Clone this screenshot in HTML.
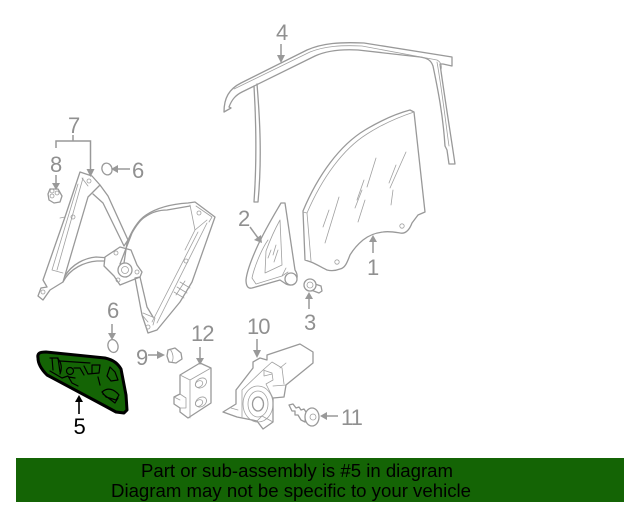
<!DOCTYPE html>
<html><head><meta charset="utf-8"><style>
html,body{margin:0;padding:0;background:#fff;width:640px;height:512px;overflow:hidden}
svg{display:block}
text{font-family:"Liberation Sans",sans-serif}
.g{fill:none;stroke:#999;stroke-width:1.3;stroke-linejoin:round;stroke-linecap:round}
.t{fill:none;stroke:#a0a0a0;stroke-width:.8;stroke-linejoin:round;stroke-linecap:round}
.w{fill:#fff;stroke:#999;stroke-width:1.3;stroke-linejoin:round}
.l{fill:#909090;font-size:22px}
.a{fill:none;stroke:#999;stroke-width:1.5}
.h{fill:#999}
.k{fill:none;stroke:#000;stroke-width:1.2;stroke-linejoin:round;stroke-linecap:round}
</style></head><body>
<svg width="640" height="512" viewBox="0 0 640 512" xmlns="http://www.w3.org/2000/svg">
<rect width="640" height="512" fill="#fff"/>

<!-- 4 molding -->
<path class="g" d="M224,112 C224,98 229,89 241,83 L307,50 C323,43 340,42 364,43 L452,57 L452,66 L443,64 L440,64 C445,100 450,130 455,164 L449,164 L447,150 L445,146 C443,115 438,90 433,66 C431,60 427,58 420,57 L358,50 C340,49 326,51 315,56 L242,92 C236,95 232,99 229,107 L231,108 L224,112Z"/>
<path class="t" d="M234,89 L310,52 C325,46 342,45 362,46 L437,60 C441,62 442,66 441,70 M437,62 C442,90 446,125 449,146"/>
<path class="g" d="M257,84 C260,120 262,160 258,202 L254,202 C257,160 256,120 254,86"/>

<!-- 1 glass -->
<path class="g" d="M303,211 C318,175 340,145 365,130 C380,121 395,114 410,110 L414,112 L425,212 L418,215 L412,223 C409,231 405,234 400,233 C394,232 389,231 383,232 C374,233 368,236 363,240 C357,245 353,250 350,255 C347,263 345,268 340,269 C335,271 331,271 327,270 C321,267 316,264 311,262 L305,260 Z"/>
<path class="t" d="M303,212 L307,213 L311,261 M307,213 C322,178 343,149 367,134 C381,125 396,118 414,112"/>
<circle class="t" cx="337" cy="262" r="2.200"/><circle class="t" cx="402" cy="226" r="2.200"/>
<path class="t" d="M339,197 L325,243 M329,210 L323,227 M365,200 L358,222 M362,190 L355,208 M376,158 L367,187 M406,152 L390,188 M396,165 L389,183 M364,180 L357,200 M393,190 L391,205"/>

<!-- 2 vent glass -->
<path class="g" d="M281,203 L285,203 L295,270 C297,273 298,277 296,281 C294,285 290,286 286,284 L280,280 L252,288 C248,289 246,286 246,280 C247,270 252,258 258,245 C266,228 274,215 281,203Z"/>
<path class="t" d="M280,220 L282,265 L265,273 L266,251 C270,240 275,229 280,220Z M252,278 L256,284 L282,276 L286,268 M252,278 C254,268 261,250 268,240 M276,245 L273,255 M278,250 L274,262 M271,250 L268,258"/>
<ellipse class="w" cx="291" cy="279" rx="6" ry="6"/>
<path class="t" d="M282,276 L288,272"/>

<!-- 3 bolt -->
<path class="w" d="M312,283 L321,286 L322,291 L319,293 L311,290"/>
<circle class="w" cx="310" cy="285" r="6"/><circle class="t" cx="310" cy="285" r="3"/>

<!-- regulator left -->
<path class="g" d="M80,172 L92,176 L100,185 L88,197 L63,282 L50,290 L43,300 L38,296 L41,288 L47,287 L43,280 L58,237 L65,217 Z"/>
<path class="t" d="M78,184 L52,270 M83,178 L57,270 M52,270 L63,273 M82,178 L88,186 M60,218 L65,217"/>
<circle class="t" cx="89" cy="181" r="2"/><circle class="t" cx="73" cy="217" r="2"/><circle class="t" cx="43" cy="292" r="2"/>
<path class="g" d="M100,185 L108,196 L128,240 L124,246 L103,203 L93,194"/>
<path class="g" d="M63,282 C70,268 85,262 97,261 L115,261 L120,264 M65,276 C72,264 85,258 96,257 L110,258"/>
<!-- plate -->
<path class="w" d="M105,257 L120,247 L131,250 L137,265 L142,272 L140,277 L120,285 L114,276 L104,266Z"/>
<circle class="t" cx="116" cy="253" r="2"/><circle class="t" cx="137" cy="272" r="2"/><circle class="t" cx="118" cy="280" r="2"/>
<circle class="w" cx="125" cy="270" r="7"/><circle class="t" cx="125" cy="270" r="3.500"/>
<!-- regulator right -->
<path class="g" d="M124,263 L127,243 C131,232 138,220 146,215 C158,207 172,204 188,203 L195,202 L215,217 L192,282 L180,302 L157,330 L148,333 L142,315 L135,278 L140,277 L147,307 L153,317"/>
<path class="g" d="M120,264 L132,233 C136,226 140,220 145,217 C152,212 160,210 167,210 L190,206"/>
<path class="t" d="M190,205 L195,230 L207,220 M207,223 L157,323 M198,232 L152,322 M195,230 L185,250 M196,206 L212,217 L209,222"/>
<circle class="t" cx="199" cy="213" r="2"/><circle class="t" cx="186" cy="261" r="2"/><circle class="t" cx="148" cy="327" r="2"/>
<path class="t" d="M185,281 L176,295 M180,282 L190,288 M177,287 L187,293 M174,292 L184,298 M143,313 L155,318 L153,325 M142,315 L148,322"/>

<!-- 8 clip -->
<path class="g" d="M50,189 L58,189 L62,196 L60,202 L54,203 L49,200 L48,194Z"/>
<path class="t" d="M52,193 A2,2 0 1 1 52.100,193 M57,195 A2,2 0 1 1 57.100,195 M52,198 A2,2 0 1 1 52.100,198"/>

<!-- 6 rings -->
<ellipse class="g" cx="107" cy="169" rx="5" ry="6" transform="rotate(-20 107 169)"/>
<ellipse class="g" cx="113" cy="346" rx="5" ry="6.500" transform="rotate(-15 113 346)"/>
<!-- 9 -->
<path class="w" d="M168,350 L175,348 L181,353 L182,359 L176,363 L169,362 L167,356Z"/>
<path class="t" d="M170,349 C173,353 174,358 172,362"/>

<!-- 12 -->
<path class="g" d="M180,375 L200,363 L211,368 L211,403 L188,418 L180,412 L180,408 L174,404 L174,397 L180,394Z"/>
<path class="t" d="M180,375 L190,380 L211,368 M190,380 L190,418 M180,394 L186,398 L186,408 L180,408 M174,397 L180,400"/>
<ellipse class="t" cx="201" cy="383" rx="6" ry="4.500" transform="rotate(-35 201 383)"/>
<ellipse class="t" cx="201" cy="402" rx="6" ry="4.500" transform="rotate(-35 201 402)"/>
<ellipse class="t" cx="199" cy="384" rx="4" ry="3" transform="rotate(-35 199 384)"/>
<ellipse class="t" cx="199" cy="403" rx="4" ry="3" transform="rotate(-35 199 403)"/>

<!-- 10 motor -->
<path class="g" d="M253,368 L253,362 L260,358 L267,360 L267,355 L300,344 L313,352 L313,363 L286,385 L284,397 L273,398 L273,422 L263,429 L257,421 L237,417 L223,412 L236,404 L236,390Z"/>
<path class="t" d="M242,390 L242,417 M242,390 L263,370 L272,362 L282,368 L284,384 M263,370 L272,373 L273,380 L266,384 L273,398 M264,370 L264,376 L272,374 M273,386 L286,385 M257,421 L262,416 L273,422 M280,368 L286,363 M231,408 L238,410"/>
<ellipse class="t" cx="258" cy="404" rx="15" ry="18"/>
<ellipse class="t" cx="258" cy="404" rx="10" ry="13"/>
<ellipse class="g" cx="258" cy="404" rx="5.500" ry="7"/>

<!-- 11 screw -->
<path class="g" d="M289,405 L293,404 L296,408 L299,407 L301,410 L304,409 L306,412 L305,422 L301,420 L298,415 L295,415 L295,411 L292,411Z"/>
<ellipse class="w" cx="312" cy="417" rx="7" ry="9"/>
<circle class="t" cx="313" cy="417" r="3"/>

<!-- gray leaders & labels -->
<text class="l" x="276" y="40">4</text>
<path class="a" d="M281,44 V56"/><path class="h" d="M277,55 H285 L281,63Z"/>
<text class="l" x="68" y="133">7</text>
<path class="a" d="M56,148 V141 H90.500 V170 M73,141 V135"/><path class="h" d="M86.500,169 H94.500 L90.500,177Z"/>
<text class="l" x="50" y="172">8</text>
<path class="a" d="M56,175 V183"/><path class="h" d="M52,183 H60 L56,190Z"/>
<text class="l" x="132" y="178">6</text>
<path class="a" d="M130,169 H117"/><path class="h" d="M118,165 V173 L111,169Z"/>
<text class="l" x="107" y="318">6</text>
<path class="a" d="M112,324 V334"/><path class="h" d="M108,333 H116 L112,340Z"/>
<text class="l" x="136" y="365">9</text>
<path class="a" d="M148,355 H158"/><path class="h" d="M157,351 V359 L165,355Z"/>
<text class="l" x="191" y="341" letter-spacing="-1">12</text>
<path class="a" d="M200,347 V359"/><path class="h" d="M196,358 H204 L200,365Z"/>
<text class="l" x="238" y="226">2</text>
<path class="a" d="M250,227 L258,238"/><path class="h" d="M254,240 L261,235 L262,243Z"/>
<text class="l" x="367" y="275">1</text>
<path class="a" d="M373,253 V240"/><path class="h" d="M369,242 H377 L373,235Z"/>
<text class="l" x="304" y="330">3</text>
<path class="a" d="M309,309 V297"/><path class="h" d="M305,299 H313 L309,292Z"/>
<text class="l" x="247" y="334" letter-spacing="-1">10</text>
<path class="a" d="M257,339 V351"/><path class="h" d="M253,350 H261 L257,358Z"/>
<text class="l" x="341" y="425" letter-spacing="-1">11</text>
<path class="a" d="M338,416 H326"/><path class="h" d="M327,412 V420 L320,416Z"/>

<!-- 5 highlighted part -->
<path d="M38,358 C37,353 40,352 46,352 L105,358 C114,360 118,364 121,369 L126,395 L127,410 L124,413 L116,412 L105,406 L47,375 C41,369 38,364 38,358Z" fill="#146405" stroke="#000" stroke-width="3" stroke-linejoin="round"/>
<path class="k" d="M50,358 L58,358 L60,372 M52,358 L53,370 M57,358 C62,362 62,369 60,374 M60,361 L90,363 M74,368 L80,368 L84,375 M69,377 L75,378 M50,371 L62,378 L68,376 L72,383 L78,386 M84,366 L88,374 L99,373 L100,365 L92,365 L92,373 M110,367 L115,372 L118,380 L111,381 L107,376 Z M98,377 L100,385 M102,392 C108,387 114,389 119,395 L116,400 L106,397 Z M103,394 L115,403 L118,398"/>
<circle class="k" cx="70" cy="371" r="3.500"/>
<text x="73.500" y="434" font-size="22" fill="#000">5</text>
<path d="M79,414 V400" stroke="#000" stroke-width="1.600" fill="none"/><path d="M75,402 H83 L79,395Z" fill="#000"/>

<!-- banner -->
<rect x="16" y="458" width="608" height="44" fill="#146405"/>
<text x="141" y="477" font-size="18" fill="#000" textLength="312" lengthAdjust="spacingAndGlyphs">Part or sub-assembly is #5 in diagram</text>
<text x="111" y="497" font-size="18" fill="#000" textLength="360" lengthAdjust="spacingAndGlyphs">Diagram may not be specific to your vehicle</text>
</svg>
</body></html>
